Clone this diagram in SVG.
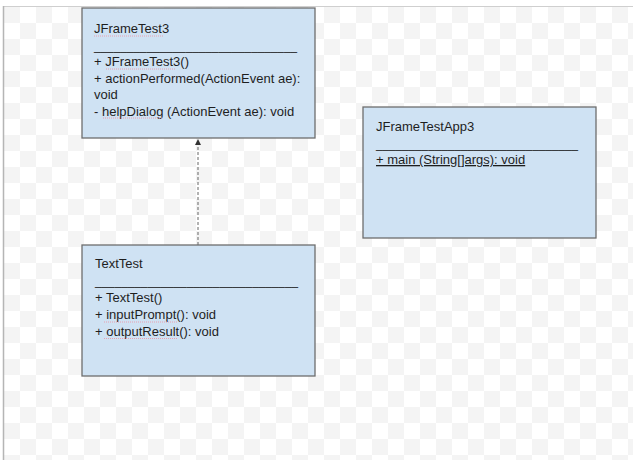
<svg xmlns="http://www.w3.org/2000/svg" width="633" height="460" viewBox="0 0 633 460">
<defs>
<pattern id="checker" x="4" y="7" width="32" height="32" patternUnits="userSpaceOnUse">
<rect x="0" y="0" width="16" height="16" fill="#f4f4f4"/>
<rect x="16" y="16" width="16" height="16" fill="#f4f4f4"/>
</pattern>
<marker id="arrow" markerWidth="6" markerHeight="8" refX="5" refY="3" orient="auto" markerUnits="userSpaceOnUse" viewBox="0 0 6 6">
<path d="M0,0 L6,3 L0,6 Z" fill="#333"/>
</marker>
</defs>
<style>
.box{fill:#cfe2f3;stroke:#6e6e6e;stroke-width:1.3}
.t{font-family:"Liberation Sans",Arial,sans-serif;font-size:13px;fill:#1e1e1e}
.sq{stroke:#e8a0b0;stroke-width:1;stroke-dasharray:1,1;fill:none}
</style>
<rect x="0" y="0" width="633" height="460" fill="#ffffff"/>
<rect x="4" y="7" width="629" height="453" fill="url(#checker)"/>
<line x1="3" y1="6.5" x2="633" y2="6.5" stroke="#cfcfcf" stroke-width="1"/>
<line x1="3.5" y1="6" x2="3.5" y2="460" stroke="#b5b5b5" stroke-width="1.5"/>

<g id="connectors">
<line x1="198" y1="245" x2="198" y2="140" stroke="#666" stroke-width="1" stroke-dasharray="3,2" marker-end="url(#arrow)"/>
</g>

<g id="JFrameTest3">
<rect class="box" x="82" y="8" width="233" height="130"/>
<text class="t" x="94" y="33">JFrameTest3</text>
<text class="t" x="94" y="49.5" textLength="203" lengthAdjust="spacingAndGlyphs">_______________________________</text>
<text class="t" x="94" y="66">+ JFrameTest3()</text>
<text class="t" x="94" y="82.5">+ actionPerformed(ActionEvent ae):</text>
<text class="t" x="94" y="99">void</text>
<text class="t" x="94" y="115.5">- helpDialog (ActionEvent ae): void</text>
<path class="sq" d="M94,36 H164 M106,69 H176 M103,118 H162"/>
</g>

<g id="JFrameTestApp3">
<rect class="box" x="363" y="107" width="233" height="131"/>
<text class="t" x="376" y="131">JFrameTestApp3</text>
<text class="t" x="376" y="148" textLength="202" lengthAdjust="spacingAndGlyphs">_______________________________</text>
<text class="t" x="376" y="164" text-decoration="underline">+ main (String[]args): void</text>
</g>

<g id="TextTest">
<rect class="box" x="82" y="245" width="233" height="131"/>
<text class="t" x="95" y="268">TextTest</text>
<text class="t" x="95" y="285" textLength="203" lengthAdjust="spacingAndGlyphs">_______________________________</text>
<text class="t" x="95" y="302">+ TextTest()</text>
<text class="t" x="95" y="319">+ inputPrompt(): void</text>
<text class="t" x="95" y="335.5">+ outputResult(): void</text>
<path class="sq" d="M104,322 H177 M104,338.5 H177"/>
</g>
</svg>
